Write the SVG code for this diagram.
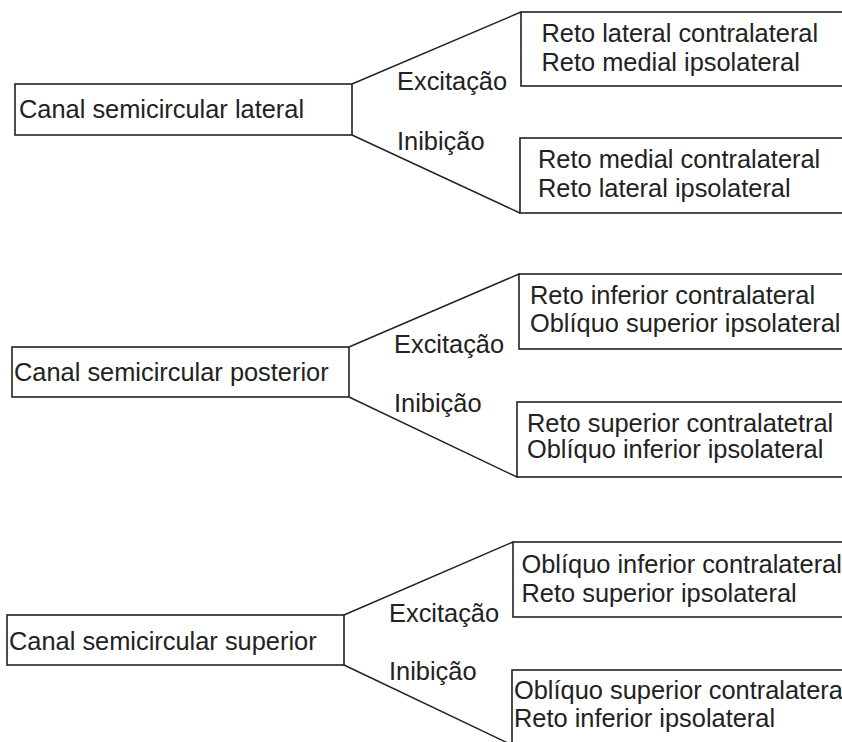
<svg xmlns="http://www.w3.org/2000/svg" width="842" height="742" viewBox="0 0 842 742">
<style>
  .box { fill: #ffffff; stroke: #222222; stroke-width: 1.6; }
  .conn { fill: none; stroke: #222222; stroke-width: 1.4; }
  text { font-family: "Liberation Sans", Arial, sans-serif; font-size: 25.4px; fill: #222222; }
</style>
<rect width="842" height="742" fill="#ffffff"/>
<g id="connectors">
  <line class="conn" x1="352" y1="84" x2="521" y2="12"/>
  <line class="conn" x1="352" y1="135" x2="520" y2="213"/>
  <line class="conn" x1="349" y1="347" x2="519" y2="274"/>
  <line class="conn" x1="349" y1="397" x2="517" y2="477"/>
  <line class="conn" x1="344" y1="615" x2="513" y2="542"/>
  <line class="conn" x1="344" y1="665" x2="512" y2="745"/>
  <text x="397" y="90">Excitação</text>
  <text x="397" y="150">Inibição</text>
  <text x="394" y="353">Excitação</text>
  <text x="394" y="412">Inibição</text>
  <text x="389" y="622">Excitação</text>
  <text x="389" y="680">Inibição</text>
</g>
<g id="canal-lateral">
  <rect class="box" x="15" y="84" width="337" height="51"/>
  <text x="19" y="118">Canal semicircular lateral</text>
</g>
<g id="lateral-excitacao">
  <rect class="box" x="521" y="12" width="340" height="74"/>
  <text x="541.5" y="42">Reto lateral contralateral</text>
  <text x="541.5" y="71">Reto medial ipsolateral</text>
</g>
<g id="lateral-inibicao">
  <rect class="box" x="520" y="138" width="340" height="75"/>
  <text x="538" y="168">Reto medial contralateral</text>
  <text x="538" y="197">Reto lateral ipsolateral</text>
</g>
<g id="canal-posterior">
  <rect class="box" x="12" y="347" width="337" height="50"/>
  <text x="14" y="381">Canal semicircular posterior</text>
</g>
<g id="posterior-excitacao">
  <rect class="box" x="519" y="274" width="340" height="75"/>
  <text x="530" y="304">Reto inferior contralateral</text>
  <text x="530" y="332">Oblíquo superior ipsolateral</text>
</g>
<g id="posterior-inibicao">
  <rect class="box" x="517" y="402" width="340" height="75"/>
  <text x="527" y="432">Reto superior contralatetral</text>
  <text x="527" y="458">Oblíquo inferior ipsolateral</text>
</g>
<g id="canal-superior">
  <rect class="box" x="7" y="615" width="337" height="50"/>
  <text x="9" y="650">Canal semicircular superior</text>
</g>
<g id="superior-excitacao">
  <rect class="box" x="513" y="542" width="340" height="75"/>
  <text x="521.5" y="573">Oblíquo inferior contralateral</text>
  <text x="521.5" y="602">Reto superior ipsolateral</text>
</g>
<g id="superior-inibicao">
  <rect class="box" x="512" y="670" width="340" height="75"/>
  <text x="514" y="699">Oblíquo superior contralateral</text>
  <text x="514" y="727">Reto inferior ipsolateral</text>
</g>
</svg>
